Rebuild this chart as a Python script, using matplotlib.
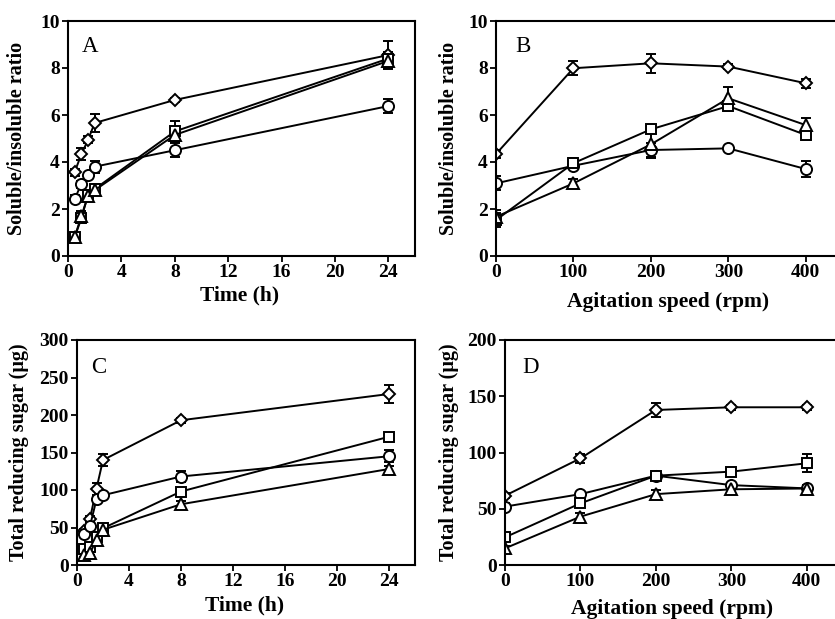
import matplotlib
matplotlib.use("Agg")
import matplotlib.pyplot as plt

plt.rcParams['font.family'] = ['Liberation Serif', 'DejaVu Serif']
plt.rcParams['font.weight'] = 'bold'

# ---- Data ----
time_h = [0.5, 1, 1.5, 2, 8, 24]
speed_rpm = [0, 100, 200, 300, 400]

# Panel A: soluble/insoluble ratio vs time
A_diamond = [3.57, 4.33, 4.94, 5.66, 6.64, 8.55]
A_diamond_err = [0.15, 0.25, 0.15, 0.4, 0.1, 0.6]
A_circle = [2.43, 3.06, 3.45, 3.8, 4.5, 6.38]
A_circle_err = [0.15, 0.15, 0.1, 0.25, 0.3, 0.3]
A_square = [0.8, 1.6, 2.6, 2.85, 5.3, 8.4]
A_square_err = [0.1, 0.2, 0.2, 0.2, 0.45, 0.3]
A_triangle = [0.8, 1.7, 2.55, 2.8, 5.15, 8.3]
A_triangle_err = [0.1, 0.2, 0.2, 0.2, 0.3, 0.3]

# Panel B: soluble/insoluble ratio vs agitation speed
B_diamond = [4.34, 7.99, 8.2, 8.06, 7.35]
B_diamond_err = [0.15, 0.3, 0.4, 0.1, 0.2]
B_circle = [3.09, 3.84, 4.51, 4.58, 3.7]
B_circle_err = [0.3, 0.15, 0.3, 0.1, 0.35]
B_square = [1.53, 3.95, 5.39, 6.38, 5.15]
B_square_err = [0.3, 0.2, 0.15, 0.2, 0.2]
B_triangle = [1.67, 3.09, 4.75, 6.71, 5.57]
B_triangle_err = [0.3, 0.2, 0.6, 0.5, 0.3]

# Panel C: total reducing sugar vs time
C_diamond = [45, 62, 102, 140, 193, 228]
C_diamond_err = [3, 4, 8, 8, 3, 12]
C_circle = [42, 52, 87.6, 93, 118, 145]
C_circle_err = [3, 3, 3, 3, 7, 8]
C_square = [22, 24, 37, 49, 98, 171]
C_square_err = [3, 3, 3, 3, 4, 4]
C_triangle = [13, 15.6, 34, 47, 81, 128]
C_triangle_err = [2, 2, 3, 3, 4, 4]

# Panel D: total reducing sugar vs agitation speed
D_diamond = [61.6, 94.8, 137.8, 140.2, 140.2]
D_diamond_err = [2, 4, 6, 2, 2]
D_circle = [51.9, 63, 79.4, 71, 68.1]
D_circle_err = [3, 2, 2, 2, 3]
D_square = [24.6, 54.8, 79.4, 83, 90.4]
D_square_err = [2, 3, 2, 2, 8]
D_triangle = [14.8, 43, 63, 67.3, 68]
D_triangle_err = [2, 3, 4, 2, 2]

# ---- Plot ----
fig = plt.figure(figsize=(8.35, 6.19), dpi=100)
W, H = 835.0, 619.0

def make_ax(left, top, right, bottom):
    return fig.add_axes([left / W, 1 - bottom / H, (right - left) / W, (bottom - top) / H])

axA = make_ax(68, 21, 415, 256)
axB = make_ax(496, 21, 843, 256)
axC = make_ax(77, 340, 415, 565)
axD = make_ax(505, 340, 843, 565)

markers = [('D', 6.5), ('o', 8.0), ('s', 7.5), ('^', 8.0)]

def draw(ax, x, series):
    for (m, ms), (y, e) in zip(markers, series):
        ax.errorbar(x, y, yerr=e, fmt='-', marker=m, ms=ms, mfc='white', mec='black',
                    mew=1.4, color='black', lw=1.4, ecolor='black', elinewidth=1.4,
                    capsize=3.5, capthick=1.4)

def style(ax, xlim, xticks, ylim, yticks, xlabel, ylabel, letter, letter_xy, ylab_x, xlab_y):
    ax.set_xlim(*xlim)
    ax.set_ylim(*ylim)
    ax.set_xticks(xticks)
    ax.set_yticks(yticks)
    for sp in ax.spines.values():
        sp.set_linewidth(1.5)
    ax.tick_params(direction='out', length=4, width=1.3, labelsize=14, pad=2)
    for lab in ax.get_xticklabels() + ax.get_yticklabels():
        lab.set_fontweight('bold')
    ax.set_xlabel(xlabel, fontsize=15.5, fontweight='bold')
    ax.set_ylabel(ylabel, fontsize=14.5, fontweight='bold')
    ax.xaxis.label.set_verticalalignment('center')
    ax.yaxis.label.set_verticalalignment('center')
    ax.xaxis.set_label_coords(0.495, xlab_y)
    ax.yaxis.set_label_coords(ylab_x, 0.5)
    ax.text(letter_xy[0], letter_xy[1], letter, transform=ax.transAxes, fontsize=16.5,
            fontweight='normal', ha='left', va='top')

draw(axA, time_h, [(A_diamond, A_diamond_err), (A_circle, A_circle_err),
                   (A_square, A_square_err), (A_triangle, A_triangle_err)])
style(axA, (0, 26), [0, 4, 8, 12, 16, 20, 24], (0, 10), [0, 2, 4, 6, 8, 10],
      'Time (h)', 'Soluble/insoluble ratio', 'A', (0.04, 0.935), -0.147, -0.166)

draw(axB, speed_rpm, [(B_diamond, B_diamond_err), (B_circle, B_circle_err),
                      (B_square, B_square_err), (B_triangle, B_triangle_err)])
style(axB, (0, 448), speed_rpm, (0, 10), [0, 2, 4, 6, 8, 10],
      'Agitation speed (rpm)', 'Soluble/insoluble ratio', 'B', (0.055, 0.935), -0.136, -0.196)

draw(axC, time_h, [(C_diamond, C_diamond_err), (C_circle, C_circle_err),
                   (C_square, C_square_err), (C_triangle, C_triangle_err)])
style(axC, (0, 26), [0, 4, 8, 12, 16, 20, 24], (0, 300), [0, 50, 100, 150, 200, 250, 300],
      'Time (h)', 'Total reducing sugar (μg)', 'C', (0.041, 0.925), -0.172, -0.178)

draw(axD, speed_rpm, [(D_diamond, D_diamond_err), (D_circle, D_circle_err),
                      (D_square, D_square_err), (D_triangle, D_triangle_err)])
style(axD, (0, 448), speed_rpm, (0, 200), [0, 50, 100, 150, 200],
      'Agitation speed (rpm)', 'Total reducing sugar (μg)', 'D', (0.05, 0.925), -0.166, -0.195)

fig.savefig('out.png', dpi=100)
